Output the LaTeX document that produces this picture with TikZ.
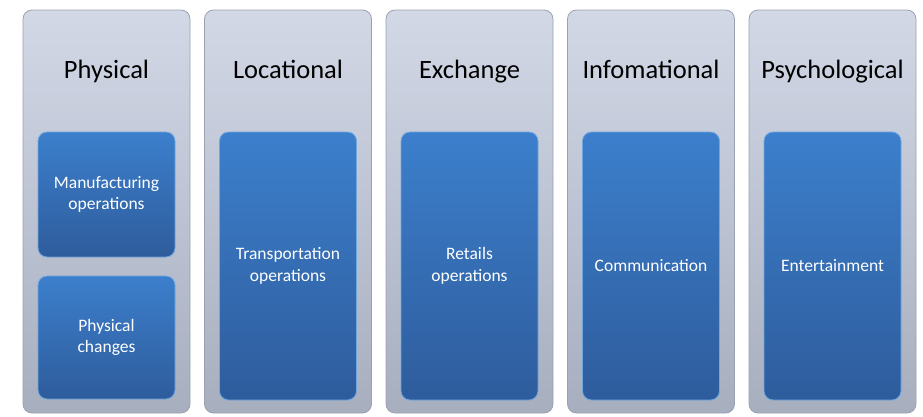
\documentclass[tikz,border=0pt]{standalone}
\usepackage{fontspec}
\setmainfont{Carlito}
\usetikzlibrary{positioning}
\definecolor{outtop}{HTML}{D2D8E6}
\definecolor{outbot}{HTML}{A7AEBE}
\definecolor{outline}{HTML}{9AA1B0}
\definecolor{intop}{HTML}{3C7FCC}
\definecolor{inbot}{HTML}{2E5C9C}
\definecolor{inline}{HTML}{6FA8E0}
\tikzset{
  outerbox/.style={rectangle, rounded corners=9pt, minimum width=167pt, minimum height=403pt,
    top color=outtop, bottom color=outbot, draw=outline, line width=0.8pt, inner sep=0pt},
  innerbox/.style={rectangle, rounded corners=9pt, minimum width=137pt,
    top color=intop, bottom color=inbot, draw=inline, line width=0.8pt,
    text=white, align=center, font=\fontsize{17.5}{21.5}\selectfont, inner sep=2pt},
  titletext/.style={font=\fontsize{26.5}{31}\selectfont, text=black, anchor=base}
}
\begin{document}
\begin{tikzpicture}[x=1pt,y=-1pt]
\useasboundingbox (0,0) rectangle (923,416);
% outer columns
\node[outerbox] (o1) at (106.5,211.5) {};
\node[outerbox] (o2) at (288,211.5) {};
\node[outerbox] (o3) at (469.5,211.5) {};
\node[outerbox] (o4) at (651,211.5) {};
\node[outerbox] (o5) at (832.5,211.5) {};
% titles
\node[titletext] (t1) at (106.5,78) {Physical};
\node[titletext] (t2) at (288,78) {Locational};
\node[titletext] (t3) at (469.5,78) {Exchange};
\node[titletext] (t4) at (651,78) {Infomational};
\node[titletext] (t5) at (832.5,78) {Psychological};
% inner boxes
\node[innerbox, minimum height=125pt] (i1a) at (106.5,194.5) {Manufacturing\\operations};
\node[innerbox, minimum height=123pt] (i1b) at (106.5,337.5) {Physical\\changes};
\node[innerbox, minimum height=268pt] (i2) at (288,266) {Transportation\\operations};
\node[innerbox, minimum height=268pt] (i3) at (469.5,266) {Retails\\operations};
\node[innerbox, minimum height=268pt] (i4) at (651,266) {Communication};
\node[innerbox, minimum height=268pt] (i5) at (832.5,266) {Entertainment};
\end{tikzpicture}
\end{document}
